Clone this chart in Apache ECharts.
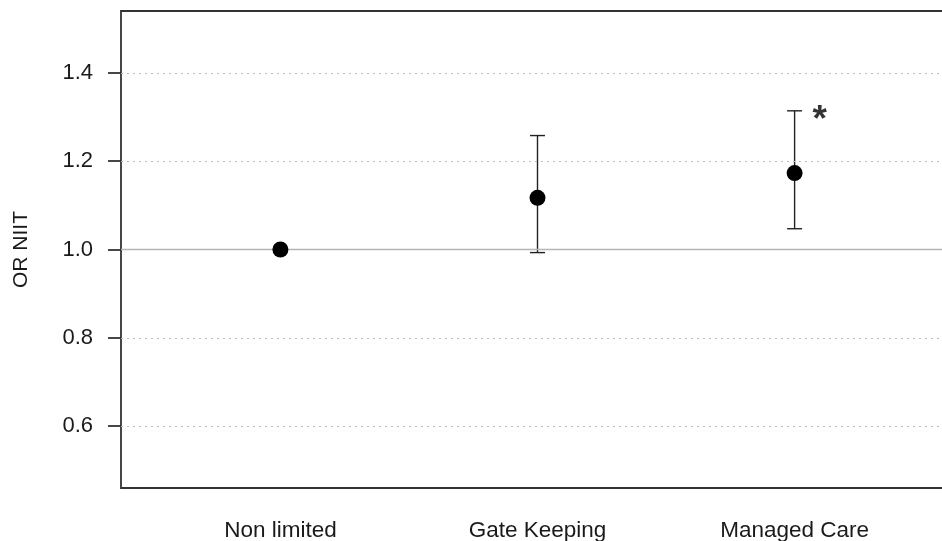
<!DOCTYPE html>
<html><head><meta charset="utf-8">
<script src="https://cdn.jsdelivr.net/npm/echarts@6/dist/echarts.min.js"></script>
<style>html,body{margin:0;padding:0;background:#fff}#c{width:942px;height:541px}</style>
</head><body><div id="c"></div>
<script>
const categories = ['Non limited', 'Gate Keeping', 'Managed Care'];
const positions = [1, 2, 3];
const estimates = [1.0, 1.117, 1.173];
const lowers = [null, 0.993, 1.047];
const uppers = [null, 1.258, 1.314];
const significant = [false, false, true];
const yTicks = [0.6, 0.8, 1.0, 1.2, 1.4];
const gridValues = [0.6, 0.8, 1.2, 1.4];
const refValue = 1.0;

const chart = echarts.init(document.getElementById('c'));
const errData = positions.map((p, i) => [p, lowers[i], uppers[i]]).filter(d => d[1] != null);
const starData = positions.map((p, i) => significant[i] ? [p, uppers[i]] : null).filter(Boolean);
const font = 'Liberation Sans, Arial, sans-serif';

chart.setOption({
  animation: false,
  grid: {left: 121, top: 11, right: -12, bottom: 53, containLabel: false, outerBoundsMode: 'none',
    show: true, borderColor: '#333', borderWidth: 1.8, backgroundColor: 'transparent'},
  xAxis: {
    type: 'value', min: 0.38, max: 3.62,
    axisLine: {show: false}, splitLine: {show: false},
    axisTick: {show: false},
    axisLabel: {customValues: positions, formatter: v => categories[positions.indexOf(Math.round(v))] || '',
      margin: 31, fontSize: 22.5, color: '#1a1a1a', fontFamily: font}
  },
  yAxis: {
    type: 'value', min: 0.46, max: 1.54,
    name: 'OR NIIT', nameLocation: 'middle', nameGap: 89, nameRotate: 90,
    nameTextStyle: {fontSize: 21, color: '#1a1a1a', fontFamily: font},
    axisLine: {show: false}, splitLine: {show: false},
    axisTick: {show: true, customValues: yTicks, length: 13, inside: false, lineStyle: {color: '#333', width: 1.8}},
    axisLabel: {customValues: yTicks, formatter: v => v.toFixed(1), margin: 28, fontSize: 22, color: '#1a1a1a', fontFamily: font}
  },
  series: [
    {
      type: 'line', data: [], silent: true,
      markLine: {
        symbol: 'none', silent: true, label: {show: false},
        data: gridValues.map(v => ({yAxis: v, lineStyle: {type: [2, 4], color: '#bbb', width: 1.2}}))
          .concat([{yAxis: refValue, lineStyle: {type: 'solid', color: '#b5b5b5', width: 1.4}}])
      }
    },
    {
      type: 'custom', data: errData, silent: true,
      renderItem: (params, api) => {
        const x = api.value(0);
        const lo = api.coord([x, api.value(1)]);
        const hi = api.coord([x, api.value(2)]);
        const hw = 7.5;
        const st = {stroke: '#222', lineWidth: 1.4};
        return {type: 'group', children: [
          {type: 'line', shape: {x1: lo[0], y1: lo[1], x2: hi[0], y2: hi[1]}, style: st},
          {type: 'line', shape: {x1: lo[0] - hw, y1: lo[1], x2: lo[0] + hw, y2: lo[1]}, style: st},
          {type: 'line', shape: {x1: hi[0] - hw, y1: hi[1], x2: hi[0] + hw, y2: hi[1]}, style: st}
        ]};
      }
    },
    {
      type: 'scatter', data: positions.map((p, i) => [p, estimates[i]]),
      symbol: 'circle', symbolSize: 16, itemStyle: {color: '#000', opacity: 1}, z: 5
    },
    {
      type: 'scatter', data: starData, symbolSize: 0,
      label: {show: true, formatter: '*', position: 'inside', offset: [25, 10], fontSize: 37, fontWeight: 'bold', color: '#000', fontFamily: font}
    }
  ]
});
</script></body></html>
